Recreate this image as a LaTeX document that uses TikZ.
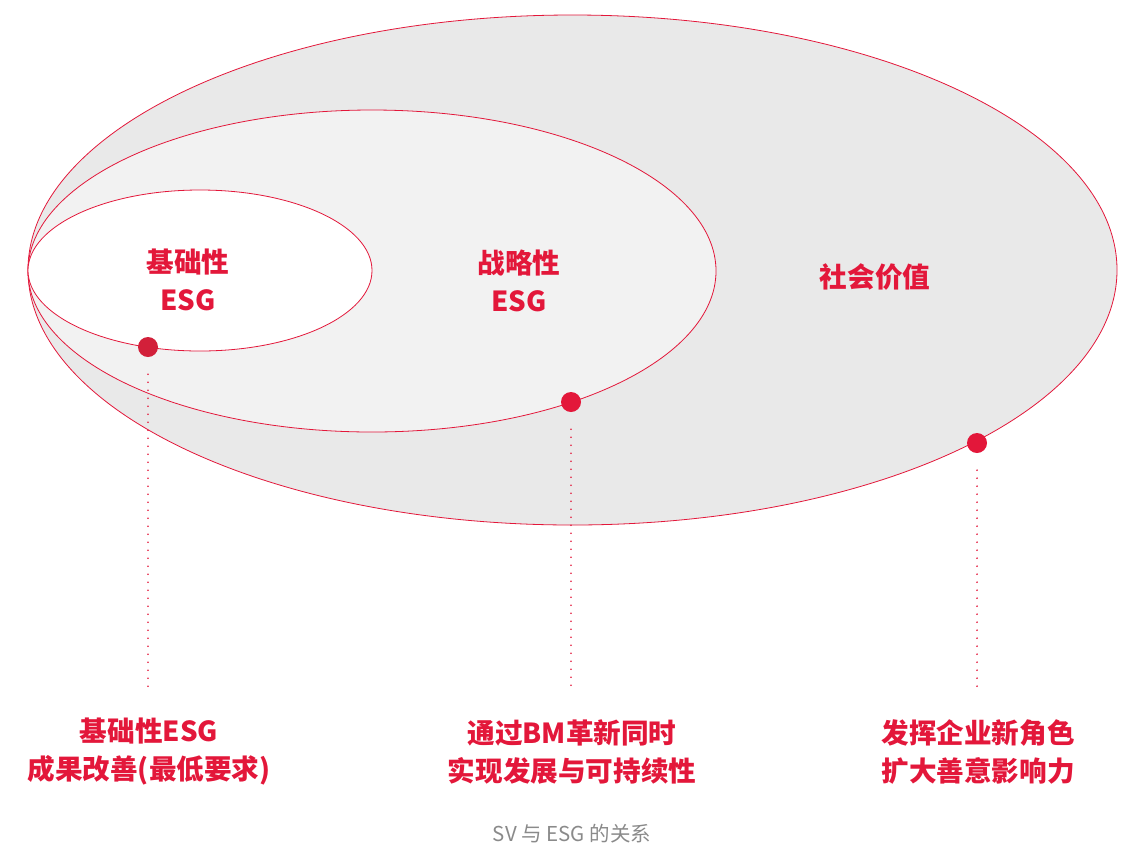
\documentclass[tikz,border=0pt]{standalone}
\usepackage{fontspec}
\setmainfont{Noto Sans CJK SC}
\usetikzlibrary{positioning}

\definecolor{esgred}{HTML}{E3173A}
\definecolor{darkred}{HTML}{D2203A}
\definecolor{outergray}{HTML}{E9E9E9}
\definecolor{midgray}{HTML}{F2F2F2}
\definecolor{captiongray}{HTML}{8A8A8A}

\begin{document}
\begin{tikzpicture}[x=1pt,y=-1pt,
    ring/.style={draw=esgred,line width=0.8pt},
    dot/.style={circle,fill=esgred,inner sep=0pt,minimum size=20pt},
    lead/.style={esgred,line width=1.9pt,dash pattern=on 0pt off 8pt,line cap=round,shorten <=17pt},
    tag/.style={text=esgred,font=\bfseries\fontsize{27.6}{38}\selectfont,align=center,inner sep=0pt},
    caption/.style={text=captiongray,font=\fontsize{20.5}{24}\selectfont,inner sep=0pt}]

        \useasboundingbox (0,0) rectangle (1126,847);

        % the three rings
        \path[ring,fill=outergray] (572.5,270) ellipse [x radius=544.5, y radius=255];
        \path[ring,fill=midgray]   (372,271)   ellipse [x radius=344,   y radius=161];
        \path[ring,fill=white]     (200,270.5) ellipse [x radius=172,   y radius=80.5];

        % ring labels
        \node[tag] (basic)    at (188,280) {基础性\\ESG};
        \node[tag] (strategy) at (519,281) {战略性\\ESG};
        \node[tag] (social)   at (875,277) {社会价值};

        % markers on the rings
        \node[dot,fill=darkred] (d1) at (148,347) {};
        \node[dot] (d2) at (571,402) {};
        \node[dot] (d3) at (977,443) {};

        \coordinate (e1) at (148,693);
        \coordinate (e2) at (571,693);
        \coordinate (e3) at (977,690);

        \draw[lead] (d1) -- (e1);
        \draw[lead] (d2) -- (e2);
        \draw[lead] (d3) -- (e3);

        % descriptions
        \node[tag] (t1) at (149,752) {基础性ESG\\成果改善(最低要求)};
        \node[tag] (t2) at (572,752) {通过BM革新同时\\实现发展与可持续性};
        \node[tag] (t3) at (978,752) {发挥企业新角色\\扩大善意影响力};

        \node[caption] (cap) at (572,834) {SV 与 ESG 的关系};
\end{tikzpicture}
\end{document}
